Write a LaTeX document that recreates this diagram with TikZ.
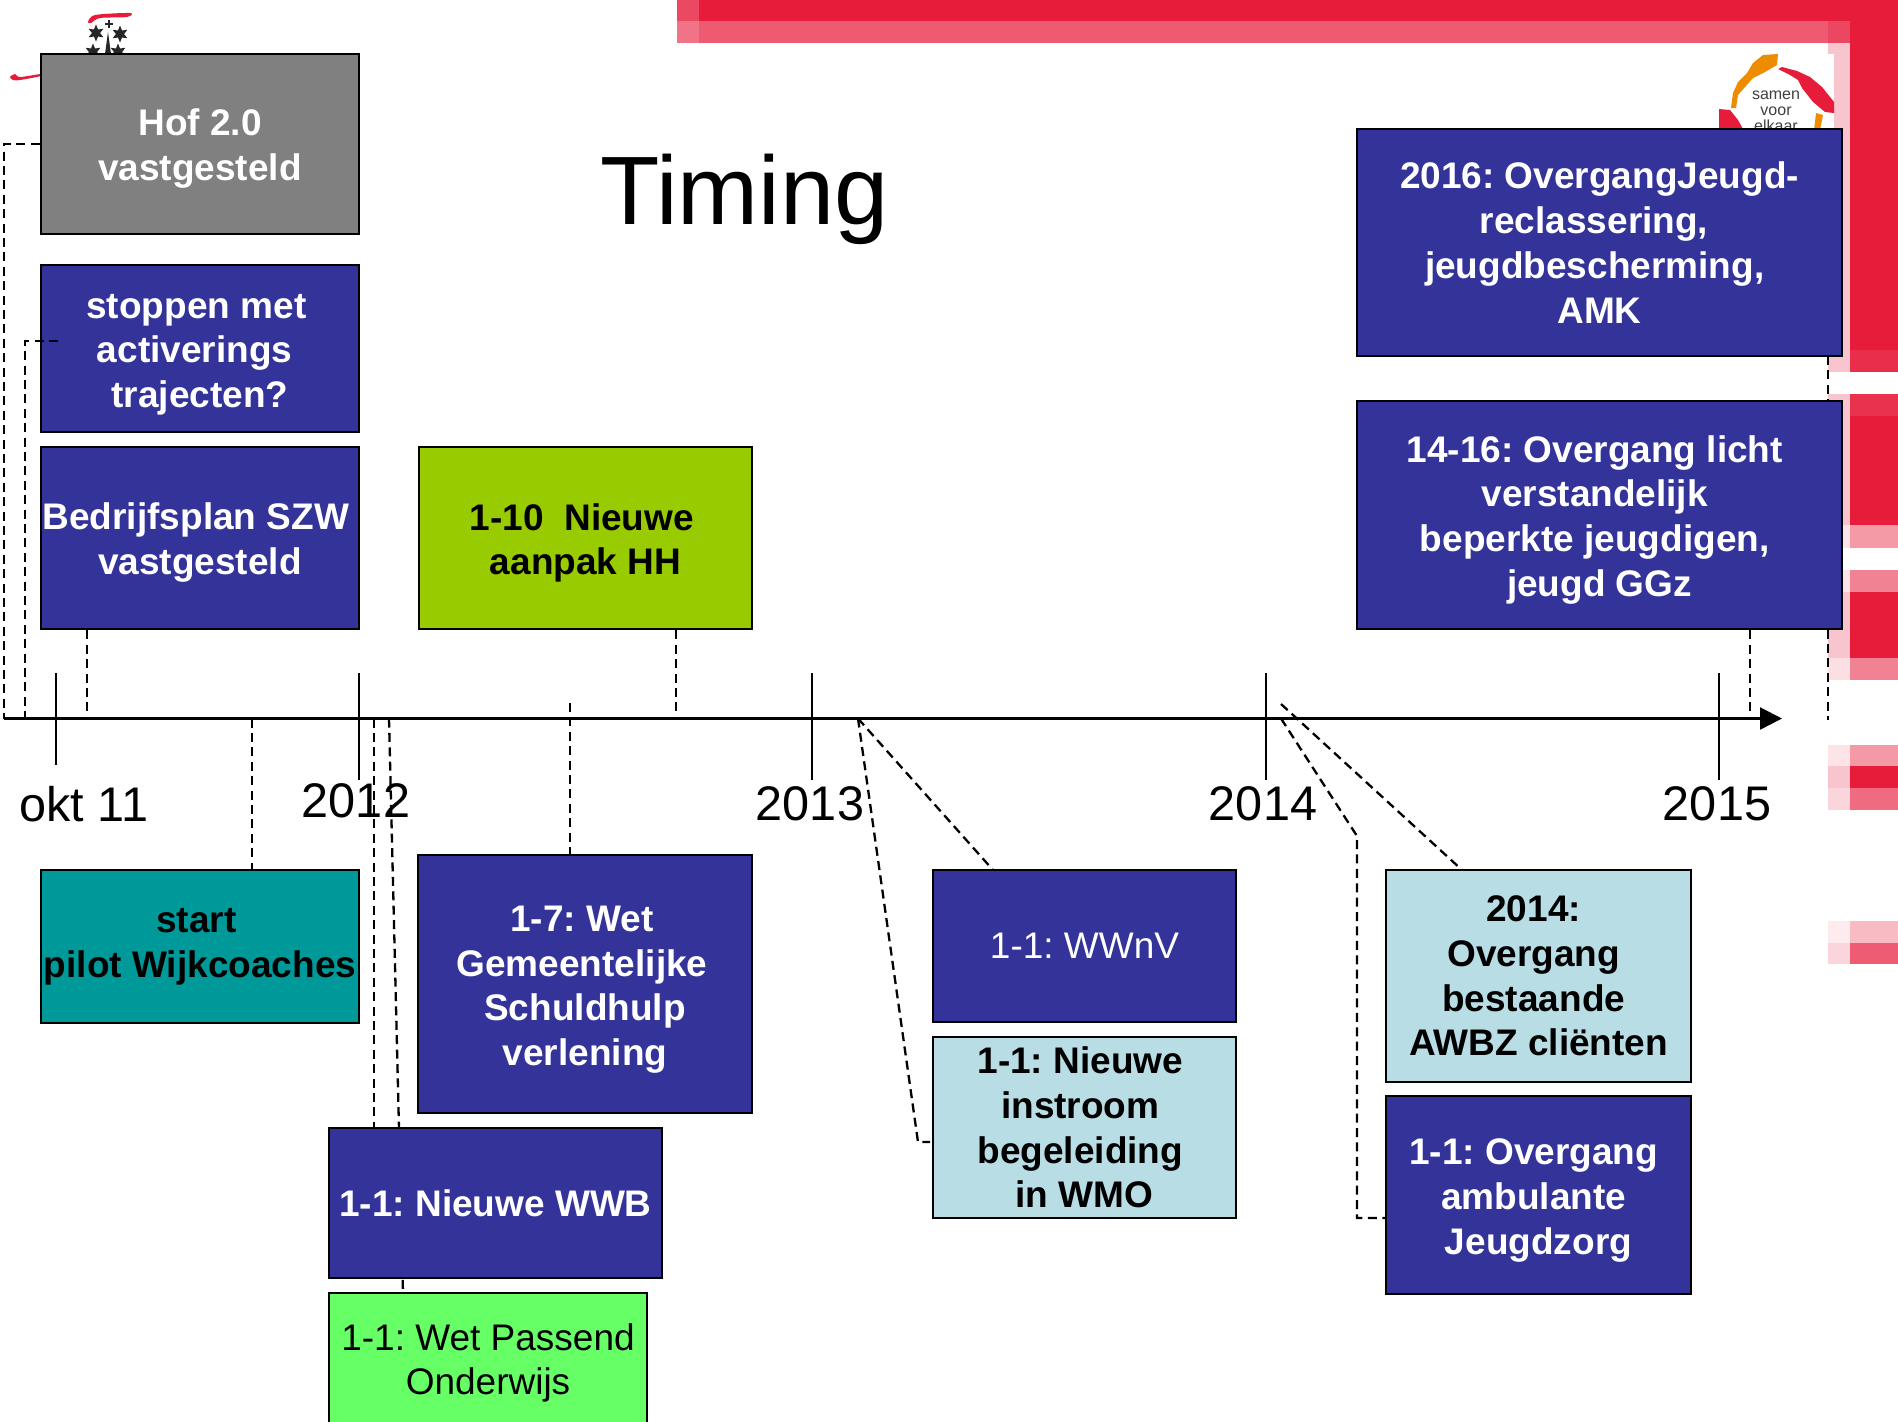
\documentclass[tikz,border=0pt]{standalone}
\usepackage{fontspec}
\setmainfont{Liberation Sans}
\usetikzlibrary{shapes.geometric,arrows.meta}

\definecolor{frame}{HTML}{E61C3A}
\definecolor{framemid}{HTML}{EE5A72}
\definecolor{framepale}{HTML}{F8C4CE}
\definecolor{navy}{HTML}{333399}
\definecolor{paleblue}{HTML}{B9DDE4}
\definecolor{logoorange}{HTML}{EE8C00}

\newcommand{\dropline}{\rule{0pt}{18.3pt}}
\newcommand{\nudge}[1]{\rule{#1}{0pt}}

\tikzset{
    planbox/.style={draw=black, line width=1.3pt, align=center, inner sep=0pt, font=\fontsize{18.5}{22.4}\selectfont\bfseries\frenchspacing},
    navybox/.style={planbox, fill=navy, text=white},
    palebox/.style={planbox, fill=paleblue, text=black},
    dashline/.style={line width=1.15pt, dash pattern=on 4.5pt off 2.7pt},
    ticklabel/.style={font=\fontsize{24.3}{28}\selectfont, inner sep=0pt},
}

\begin{document}
\begin{tikzpicture}[x=0.5pt, y=-0.5pt]
    \useasboundingbox (0,0) rectangle (1898,1421);
    \clip (0,0) rectangle (1898,1421);

    % red frame, top and right
    \fill[frame] (699,0) rectangle (1898,21);
    \fill[frame!80!white] (677,0) rectangle (699,21);
    \fill[framemid] (699,21) rectangle (1828,43);
    \fill[framemid!85!white] (677,21) rectangle (699,43);
    \fill[framemid!70!frame] (1828,21) rectangle (1850,43);
    \fill[frame] (1850,21) rectangle (1898,350);
    \fill[frame!92!white] (1850,350) rectangle (1898,372);
    \fill[framepale] (1828,43) rectangle (1850,372);
    \fill[frame!90!white] (1850,394) rectangle (1898,416);
    \fill[frame] (1850,416) rectangle (1898,525);
    \fill[framepale] (1828,394) rectangle (1850,525);
    \fill[frame!45!white] (1850,525) rectangle (1898,548);
    \fill[frame!12!white] (1828,525) rectangle (1850,548);
    \fill[frame!55!white] (1850,570) rectangle (1898,592);
    \fill[frame!12!white] (1828,570) rectangle (1850,592);
    \fill[frame] (1850,592) rectangle (1898,658);
    \fill[framepale] (1828,592) rectangle (1850,658);
    \fill[frame!55!white] (1850,658) rectangle (1898,680);
    \fill[frame!14!white] (1828,658) rectangle (1850,680);
    \fill[frame!45!white] (1850,745) rectangle (1898,766);
    \fill[frame!12!white] (1828,745) rectangle (1850,766);
    \fill[frame] (1850,766) rectangle (1898,788);
    \fill[framepale] (1828,766) rectangle (1850,788);
    \fill[frame!65!white] (1850,788) rectangle (1898,810);
    \fill[frame!18!white] (1828,788) rectangle (1850,810);
    \fill[frame!30!white] (1850,921) rectangle (1898,943);
    \fill[frame!9!white] (1828,921) rectangle (1850,943);
    \fill[frame!72!white] (1850,943) rectangle (1898,964);
    \fill[frame!18!white] (1828,943) rectangle (1850,964);

    % crest, left
    \fill[frame, smooth cycle] plot coordinates {(88,22) (95,15) (130,13) (127,17) (100,18) (91,23)};
    \fill[frame, smooth cycle] plot coordinates {(10,77) (15,74) (20,77) (41,74) (41,76) (20,80) (13,80)};
    \foreach \name/\xpos/\ypos in {crestA/96/33, crestB/120/34, crestC/93/52, crestD/118/52}
        \node[star, star points=6, star point ratio=2.1, fill=black!85, inner sep=0pt, minimum size=8.5pt] (\name) at (\xpos,\ypos) {};
    \fill[black!85] (105,54) -- (108,32) -- (111,54) -- cycle;
    \draw[black!85, line width=1.1pt] (109,20) -- (109,28) (105,24) -- (113,24);

    % logo, right
    \fill[white] (1719,54) rectangle (1834,129);
    \fill[logoorange] (1778,54) -- (1777,65) -- (1765,72) -- (1753,78) -- (1745,87) -- (1738,95) -- (1736,108) -- (1731,108)
        -- (1733,93) -- (1738,82) -- (1747,73) -- (1753,63) -- (1763,55) -- cycle;
    \fill[logoorange] (1816,113) -- (1823,115) -- (1820,130) -- (1814,130) -- cycle;
    \fill[frame] (1778,69) -- (1782,67) -- (1797,71) -- (1810,77) -- (1822,87) -- (1834,102) -- (1834,113) -- (1825,112)
        -- (1813,102) -- (1802,88) -- (1798,80) -- (1790,75) -- cycle;
    \fill[frame] (1719,109) -- (1730,110) -- (1738,120) -- (1743,129) -- (1719,129) -- cycle;
    \node[align=center, text=black!75, inner sep=0pt, font=\fontsize{8}{8}\selectfont] (logotext) at (1776,111) {samen\\voor\\elkaar};

    % timeline points
    \coordinate (axisstart) at (4,718.5);
    \coordinate (axisend) at (1782,718.5);
    \coordinate (hofpoint) at (4,718.5);
    \coordinate (stoppoint) at (25,718.5);
    \coordinate (stopstart) at (58,341);
    \coordinate (bedrijfpoint) at (87,718.5);
    \coordinate (pilotpoint) at (252,718.5);
    \coordinate (wwbpoint) at (374,718.5);
    \coordinate (passendpoint) at (389,718.5);
    \coordinate (schuldpoint) at (570,703);
    \coordinate (aanpakpoint) at (676,718.5);
    \coordinate (yearpoint) at (858,718.5);
    \coordinate (wwnvtop) at (993,870);
    \coordinate (instroombend) at (918,1142);
    \coordinate (instroomend) at (930,1142);
    \coordinate (awbzpoint) at (1281,704);
    \coordinate (awbztop) at (1462,870);
    \coordinate (ambupoint) at (1281,718.5);
    \coordinate (ambubend) at (1357,836);
    \coordinate (lichtpoint) at (1750,718.5);
    \coordinate (jeugdpoint) at (1828,720);
    \coordinate (jeugdtop) at (1828,356);

    % dashed connectors, under the boxes
    \draw[dashline] (jeugdtop) -- (jeugdpoint);
    \draw[dashline] (passendpoint) -- (403,1293);
    \draw[dashline] (wwbpoint) -- (374,1128);
    \draw[dashline] (schuldpoint) -- (570,855);
    \draw[dashline] (pilotpoint) -- (252,871);
    \draw[dashline] (yearpoint) -- (wwnvtop);
    \draw[dashline] (yearpoint) -- (instroombend) -- (instroomend);
    \draw[dashline] (awbzpoint) -- (awbztop);
    \draw[dashline] (ambupoint) -- (ambubend) -- (1357,1218) -- (1386,1218);

    \node[planbox, fill=black!50, text=white, minimum width=159pt, minimum height=90pt] (hof) at (200,144) {\dropline Hof 2.0\\vastgesteld};
    \node[navybox, minimum width=159pt, minimum height=83.5pt] (stoppen) at (200,348.5) {\dropline stoppen met\nudge{3.6pt}\\activerings\nudge{5.4pt}\\trajecten?};
    \node[navybox, minimum width=159pt, minimum height=91pt] (bedrijf) at (200,538) {\dropline Bedrijfsplan SZW\nudge{4.2pt}\\vastgesteld};
    \node[planbox, fill={rgb,255:red,153;green,204;blue,0}, minimum width=166.5pt, minimum height=91pt] (aanpak) at (585.5,538) {\dropline 1-10\ \ Nieuwe\nudge{3.6pt}\\aanpak HH};
    \node[navybox, minimum width=242.5pt, minimum height=113.5pt] (jeugd) at (1599.5,242.5) {2016: OvergangJeugd-\\reclassering,\nudge{5.4pt}\\jeugdbescherming,\nudge{4.8pt}\\AMK};
    \node[navybox, minimum width=242.5pt, minimum height=114pt] (licht) at (1599.5,515) {\dropline 14-16: Overgang licht\nudge{4.8pt}\\verstandelijk\nudge{4.8pt}\\beperkte jeugdigen,\nudge{4.8pt}\\jeugd GGz};
    \node[planbox, fill={rgb,255:red,0;green,153;blue,153}, minimum width=159pt, minimum height=76.5pt] (pilot) at (200,946.5) {start\nudge{3.6pt}\\pilot Wijkcoaches};
    \node[navybox, minimum width=167pt, minimum height=129pt] (schuld) at (585,984) {\dropline 1-7: Wet\nudge{3pt}\\Gemeentelijke\nudge{3pt}\\Schuldhulp\\verlening};
    \node[navybox, minimum width=166.5pt, minimum height=75pt] (wwb) at (495.5,1203) {1-1: Nieuwe WWB};
    \node[planbox, fill={rgb,255:red,102;green,255;blue,102}, font=\fontsize{18.5}{22.4}\selectfont\frenchspacing, minimum width=159pt, minimum height=70pt] (passend) at (488,1363) {1-1: Wet Passend\\Onderwijs};
    \node[navybox, font=\fontsize{18.5}{22.4}\selectfont\frenchspacing, minimum width=151.5pt, minimum height=76pt] (wwnv) at (1084.5,946) {1-1: WWnV};
    \node[palebox, minimum width=151.5pt, minimum height=90.5pt] (instroom) at (1084.5,1127.5) {1-1: Nieuwe\nudge{4.2pt}\\instroom\nudge{4.2pt}\\begeleiding\nudge{4.2pt}\\in WMO};
    \node[palebox, minimum width=152.5pt, minimum height=106pt] (awbz) at (1538.5,976) {2014:\nudge{4.8pt}\\Overgang\nudge{4.8pt}\\bestaande\nudge{4.8pt}\\AWBZ cliënten};
    \node[navybox, minimum width=152.5pt, minimum height=99pt] (ambu) at (1538.5,1195) {\dropline 1-1: Overgang\nudge{4.8pt}\\ambulante\nudge{4.8pt}\\Jeugdzorg};

    % dashed connectors that touch a box side
    \draw[dashline] (hof.west) -| (hofpoint);
    \draw[dashline] (stopstart) -| (stoppoint);
    \draw[dashline] (bedrijfpoint |- bedrijf.south) -- (bedrijfpoint);
    \draw[dashline] (aanpakpoint |- aanpak.south) -- (aanpakpoint);
    \draw[dashline] (lichtpoint |- licht.south) -- (lichtpoint);

    % timeline
    \draw[line width=1.1pt, -{Triangle[length=11pt, width=11pt]}] (axisstart) -- (axisend);
    \foreach \name/\xpos/\ylow/\xtext/\ytext/\lab in {okt/56/765/84/804/okt 11, jaarA/359/780/356/801/2012, jaarB/812/780/810/804/2013, jaarC/1266/780/1263/804/2014, jaarD/1719/780/1717/804/2015} {
        \draw[line width=1pt] (\xpos,673) -- (\xpos,\ylow);
        \node[ticklabel] (\name) at (\xtext,\ytext) {\lab};
    }

    \node[font=\fontsize{48.6}{50}\selectfont, inner sep=0pt] (title) at (744.5,199) {Timing};
\end{tikzpicture}
\end{document}
